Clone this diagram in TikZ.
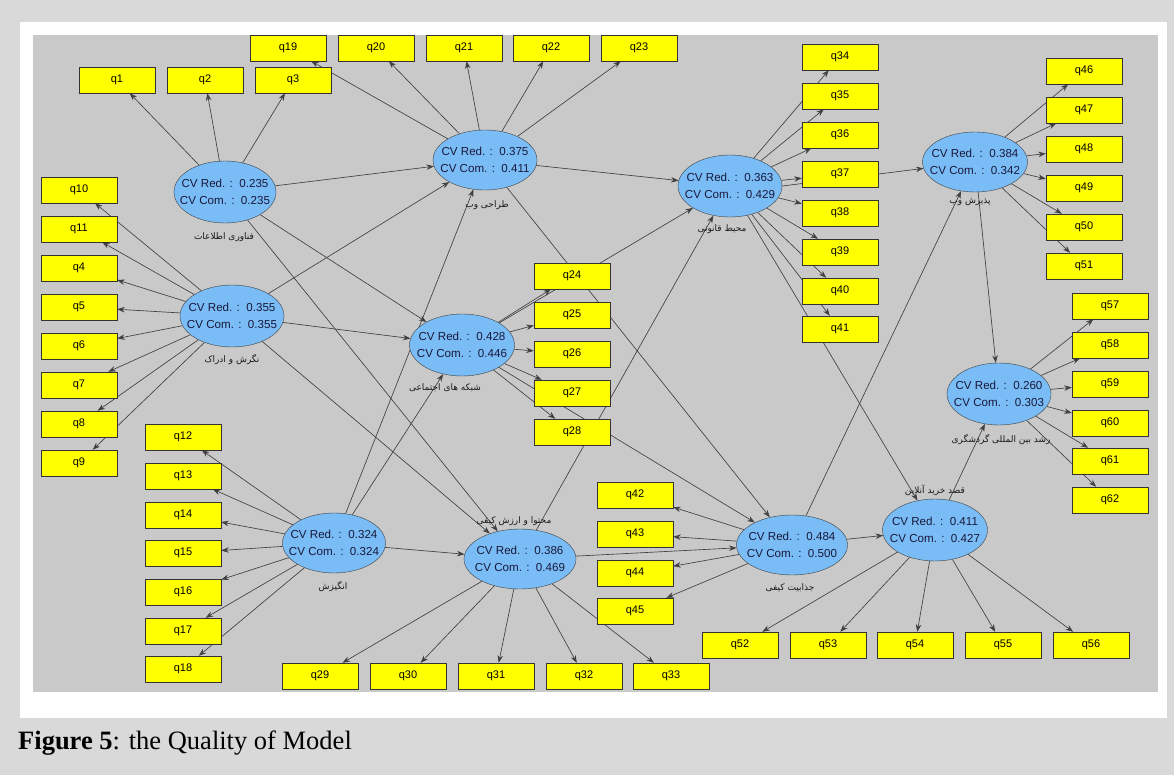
\documentclass[tikz,border=0pt]{standalone}
\usepackage{fontspec}
\setmainfont{Liberation Serif}
\setsansfont{Liberation Sans}
\newfontfamily\arabicfont[Script=Arabic]{DejaVu Sans}
\TeXXeTstate=1
\usetikzlibrary{arrows.meta,shapes.geometric}
\pgfdeclarelayer{edges}
\pgfsetlayers{edges,main}
\definecolor{outerbg}{RGB}{217,217,217}
\definecolor{diagbg}{RGB}{201,201,201}
\definecolor{ellblue}{RGB}{122,188,245}
\definecolor{navytext}{RGB}{25,25,60}
\definecolor{qyellow}{RGB}{255,255,0}
\tikzset{
  lv/.style={ellipse, draw=black!75, fill=ellblue, inner xsep=-14pt, inner ysep=0pt, align=center, font=\sffamily\fontsize{11.6}{17}\selectfont, text=navytext},
  ind/.style={rectangle, draw=black!80, fill=qyellow, minimum width=76pt, minimum height=26pt, inner sep=0pt, font=\sffamily\fontsize{11}{13}\selectfont},
  lab/.style={font=\arabicfont\fontsize{9}{11}\selectfont, text=black!90, inner sep=1pt},
  pth/.style={draw=black!75, line width=0.65pt, -{Stealth[length=7.5pt,width=5.5pt]}}
}
\newcommand{\cv}[2]{CV Red. :\ \ #1\\CV Com. :\ \ #2}
\begin{document}
\begin{tikzpicture}[x=1pt,y=-1pt]
\useasboundingbox (0,0) rectangle (1174,775);
\begin{pgfonlayer}{edges}
\fill[outerbg] (0,0) rectangle (1174,775);
\fill[white] (20,22) rectangle (1167,718);
\fill[diagbg] (33,35) rectangle (1158,692);
\end{pgfonlayer}
% latent variables
\node[lv, minimum width=102pt, minimum height=62pt] (IT) at (225,192) {\cv{0.235}{0.235}};
\node[lv, minimum width=104pt, minimum height=62pt] (ATT) at (232,316) {\cv{0.355}{0.355}};
\node[lv, minimum width=104pt, minimum height=60pt] (WD) at (485,160) {\cv{0.375}{0.411}};
\node[lv, minimum width=105pt, minimum height=62pt] (SN) at (462,345) {\cv{0.428}{0.446}};
\node[lv, minimum width=104pt, minimum height=62pt] (LE) at (730,186) {\cv{0.363}{0.429}};
\node[lv, minimum width=105pt, minimum height=60pt] (WA) at (975,162) {\cv{0.384}{0.342}};
\node[lv, minimum width=104pt, minimum height=62pt] (TG) at (999,394) {\cv{0.260}{0.303}};
\node[lv, minimum width=105pt, minimum height=62pt] (PI) at (935,530) {\cv{0.411}{0.427}};
\node[lv, minimum width=111pt, minimum height=60pt] (AT) at (792,545) {\cv{0.484}{0.500}};
\node[lv, minimum width=112pt, minimum height=60pt] (CO) at (520,559) {\cv{0.386}{0.469}};
\node[lv, minimum width=103pt, minimum height=60pt] (MO) at (334,543) {\cv{0.324}{0.324}};
% labels
\node[lab] (ITl) at (224,237) {\beginR فناوری اطلاعات\endR};
\node[lab] (ATTl) at (232,360) {\beginR نگرش و ادراک\endR};
\node[lab] (WDl) at (487,205) {\beginR طراحی وب\endR};
\node[lab] (SNl) at (445,388) {\beginR شبکه های اجتماعی\endR};
\node[lab] (LEl) at (722,229) {\beginR محیط قانونی\endR};
\node[lab] (WAl) at (970,202) {\beginR پذیرش وب\endR};
\node[lab] (TGl) at (1001,440) {\beginR رشد بین المللی گردشگری\endR};
\node[lab] (PIl) at (935,490) {\beginR قصد خرید آنلاین\endR};
\node[lab] (ATl) at (790,588) {\beginR جذابیت کیفی\endR};
\node[lab] (COl) at (514,521) {\beginR محتوا و ارزش کیفی\endR};
\node[lab] (MOl) at (333,587) {\beginR انگیزش\endR};
% indicators
\foreach \n/\x/\y in {1/117/80, 2/205/80, 3/293/80,
  19/288/48, 20/376/48, 21/464/48, 22/551/48, 23/639/48,
  10/79/190, 11/79/229, 4/79/268, 5/79/307, 6/79/346, 7/79/385, 8/79/424, 9/79/463,
  12/183/437, 13/183/476, 14/183/515, 15/183/553, 16/183/592, 17/183/631, 18/183/669,
  29/320/676, 30/408/676, 31/496/676, 32/584/676, 33/671/676,
  24/572/276, 25/572/315, 26/572/354, 27/572/393, 28/572/432,
  34/840/57, 35/840/96, 36/840/135, 37/840/174, 38/840/213, 39/840/252, 40/840/291, 41/840/329,
  46/1084/71, 47/1084/110, 48/1084/149, 49/1084/188, 50/1084/227, 51/1084/266,
  57/1110/306, 58/1110/345, 59/1110/384, 60/1110/423, 61/1110/461, 62/1110/500,
  42/635/495, 43/635/534, 44/635/573, 45/635/611,
  52/740/645, 53/828/645, 54/915/645, 55/1003/645, 56/1091/645}
  \node[ind] (q\n) at (\x,\y) {q\n};
\begin{pgfonlayer}{edges}
% outer loadings
\foreach \i in {1,2,3} \draw[pth] (IT) -- (q\i);
\foreach \i in {19,...,23} \draw[pth] (WD) -- (q\i);
\foreach \i in {4,...,11} \draw[pth] (ATT) -- (q\i);
\foreach \i in {12,...,18} \draw[pth] (MO) -- (q\i);
\foreach \i in {29,...,33} \draw[pth] (CO) -- (q\i);
\foreach \i in {24,...,28} \draw[pth] (SN) -- (q\i);
\foreach \i in {34,...,41} \draw[pth] (LE) -- (q\i);
\foreach \i in {46,...,51} \draw[pth] (WA) -- (q\i);
\foreach \i in {57,...,62} \draw[pth] (TG) -- (q\i);
\foreach \i in {42,...,45} \draw[pth] (AT) -- (q\i);
\foreach \i in {52,...,56} \draw[pth] (PI) -- (q\i);
% structural paths
\draw[pth] (IT) -- (WD);
\draw[pth] (IT) -- (SN);
\draw[pth] (IT) -- (CO);
\draw[pth] (ATT) -- (WD);
\draw[pth] (ATT) -- (SN);
\draw[pth] (ATT) -- (CO);
\draw[pth] (MO) -- (WD);
\draw[pth] (MO) -- (SN);
\draw[pth] (MO) -- (CO);
\draw[pth] (WD) -- (LE);
\draw[pth] (WD) -- (AT);
\draw[pth] (SN) -- (LE);
\draw[pth] (SN) -- (AT);
\draw[pth] (CO) -- (LE);
\draw[pth] (CO) -- (AT);
\draw[pth] (LE.east) -- (WA);
\draw[pth] (LE) -- (PI);
\draw[pth] (AT) -- (PI);
\draw[pth] (AT) -- (WA);
\draw[pth] (WA) -- (TG);
\draw[pth] (PI) -- (TG);
\end{pgfonlayer}
% caption
\node[anchor=base west, inner sep=0pt, font=\fontsize{26.5}{30}\selectfont] (cap) at (18,749) {\textbf{Figure 5}: the Quality of Model};
\end{tikzpicture}
\end{document}
